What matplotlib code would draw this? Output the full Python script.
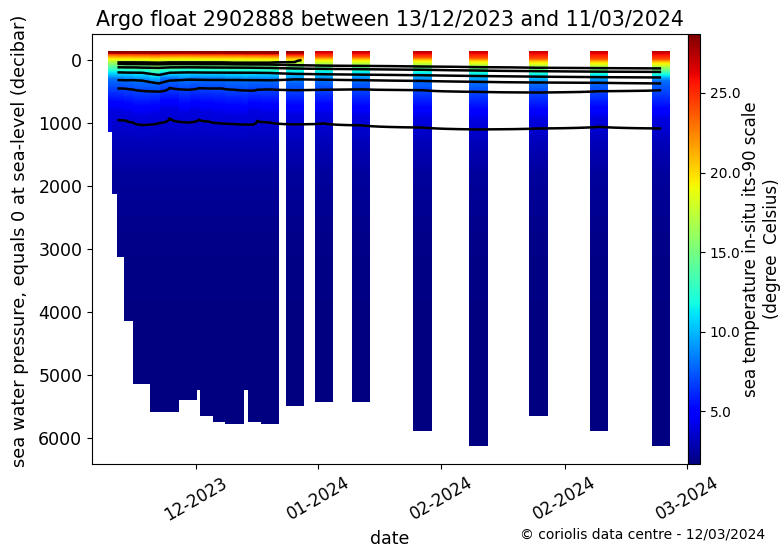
import matplotlib
matplotlib.use('Agg')
import matplotlib.pyplot as plt
import matplotlib.dates as mdates
import numpy as np
import pandas as pd

# profile dates of float 2902888
profile_dates = pd.to_datetime([
    '2023-12-13 00:00', '2023-12-13 16:00', '2023-12-14 11:00', '2023-12-15 14:00',
    '2023-12-17 02:00', '2023-12-19 19:00', '2023-12-21 13:00', '2023-12-24 13:00',
    '2023-12-26 08:00', '2023-12-28 00:00', '2023-12-30 04:00', '2024-01-01 04:00',
    '2024-01-04 01:00', '2024-01-04 21:00', '2024-01-06 23:00', '2024-01-11 01:00',
    '2024-01-15 19:00', '2024-01-21 20:00', '2024-01-31 23:00', '2024-02-10 02:00',
    '2024-02-19 22:00', '2024-02-29 21:00', '2024-03-11 00:00'])

# deepest pressure of each profile (decibar)
max_pres = [990, 1980, 2970, 3990, 4990, 5440, 5440, 5250, 5090, 5500, 5600, 5630,
            5090, 5600, 5630, 5340, 5280, 5280, 5740, 5980, 5500, 5740, 5980]

# temperature at the surface (degree Celsius)
surface_temp = [28.6, 28.7, 28.7, 28.6, 28.7, 28.6, 28.7, 28.6, 28.6, 28.7, 28.6, 28.6,
                28.6, 28.5, 28.5, 28.15, 27.5, 27.6, 27.6, 27.3, 27.2, 27.2, 27.5]

# pressure of the isotherms for each profile
iso_levels = [28, 24, 20, 16, 12, 8, 4]
iso_28 = [35, 35, 36, 36, 38, 40, 36, 36, 37, 38, 38, 40, 42, 42, 40, 32,
          np.nan, np.nan, np.nan, np.nan, np.nan, np.nan, np.nan]
iso_24 = [60, 60, 62, 62, 63, 66, 62, 62, 63, 64, 64, 66, 68, 68, 70, 80,
          88, 92, 102, 112, 122, 128, 132]
iso_20 = [113, 113, 115, 115, 118, 122, 115, 113, 115, 116, 117, 118, 120, 121, 123, 132,
          138, 143, 152, 165, 175, 182, 186]
iso_16 = [195, 195, 197, 198, 200, 235, 200, 194, 196, 197, 198, 199, 200, 201, 203, 218,
          224, 230, 240, 252, 262, 270, 275]
iso_12 = [317, 317, 320, 317, 325, 370, 325, 310, 312, 315, 315, 315, 317, 317, 320, 305,
          310, 317, 330, 344, 355, 360, 370]
iso_8 = [450, 450, 455, 466, 487, 500, 440, 470, 445, 450, 450, 470, 485, 470, 465, 476,
         470, 462, 476, 503, 513, 492, 476]
iso_4 = [950, 955, 960, 990, 1030, 1000, 925, 990, 945, 975, 1005, 1015, 1025, 965, 990, 1020,
         1005, 1035, 1070, 1100, 1085, 1058, 1085]
iso_depths = [iso_28, iso_24, iso_20, iso_16, iso_12, iso_8, iso_4]

# deep water, same for all profiles
deep_pres = [1500, 2000, 3000, 4000, 5000, 6000]
deep_temp = [3.0, 2.4, 1.95, 1.8, 1.75, 1.7]

title = 'Argo float 2902888 between 13/12/2023 and 11/03/2024'
credit = '\u00a9 coriolis data centre - 12/03/2024'

HALF_WIDTH = 1.5   # days
HALF_HEIGHT = 150  # decibar
p_grid = np.arange(0, 6001, 5)

x_num = mdates.date2num(profile_dates)
n = len(x_num)
temp_grid = np.full((len(p_grid), n), np.nan)
for i in range(n):
    xp = [0]
    fp = [surface_temp[i]]
    for level, depths in zip(iso_levels, iso_depths):
        if not np.isnan(depths[i]):
            xp.append(depths[i])
            fp.append(level)
    xp += deep_pres
    fp += deep_temp
    col = np.interp(p_grid, xp, fp)
    col[p_grid > max_pres[i]] = np.nan
    temp_grid[:, i] = col

vmin = np.nanmin(temp_grid)
vmax = np.nanmax(temp_grid)

fig = plt.figure(figsize=(7.82, 5.55), dpi=100)
ax = fig.add_axes([92/782, 91/555, 596/782, 430/555])
cax = fig.add_axes([688/782, 91/555, 12/782, 430/555])

# one column per profile, later profiles drawn over earlier ones
for i in range(n):
    valid = ~np.isnan(temp_grid[:, i])
    y_edges = np.concatenate([p_grid[valid] - HALF_HEIGHT, [max_pres[i] + HALF_HEIGHT]])
    x_edges = [x_num[i] - HALF_WIDTH, x_num[i] + HALF_WIDTH]
    c = temp_grid[valid, i][:, None]
    mesh = ax.pcolormesh(x_edges, y_edges, c, shading='flat', cmap='jet', vmin=vmin, vmax=vmax)

ax.contour(x_num, p_grid, np.ma.masked_invalid(temp_grid), levels=sorted(iso_levels),
           colors='black', linewidths=1.8)

ax.set_ylim(6410, -415)
ax.set_xlim(x_num[0] - 4.17, x_num[0] + 93.4)
ax.set_xticks(x_num[0] + np.array([12.8, 32.9, 53.0, 73.2, 93.3]))
ax.xaxis.set_major_formatter(mdates.DateFormatter('%m-%Y'))
ax.tick_params(axis='x', labelsize=12)
ax.tick_params(axis='y', labelsize=12.5)
plt.setp(ax.get_xticklabels(), rotation=30)
ax.set_xlabel('date', fontsize=12.5)
ax.set_ylabel('sea water pressure, equals 0 at sea-level (decibar)', fontsize=12.8)
ax.yaxis.set_label_coords(-0.105, 0.52)
ax.set_title(title, fontsize=14.8)

cb = fig.colorbar(mesh, cax=cax, ticks=[5, 10, 15, 20, 25], format='%.1f')
cb.ax.tick_params(labelsize=10)
cb.set_label('sea temperature in-situ its-90 scale\n(degree  Celsius)', fontsize=12, labelpad=1)

fig.text(765/782, 20/555, credit, ha='right', va='center', fontsize=10)

fig.savefig('out.png', dpi=100)
